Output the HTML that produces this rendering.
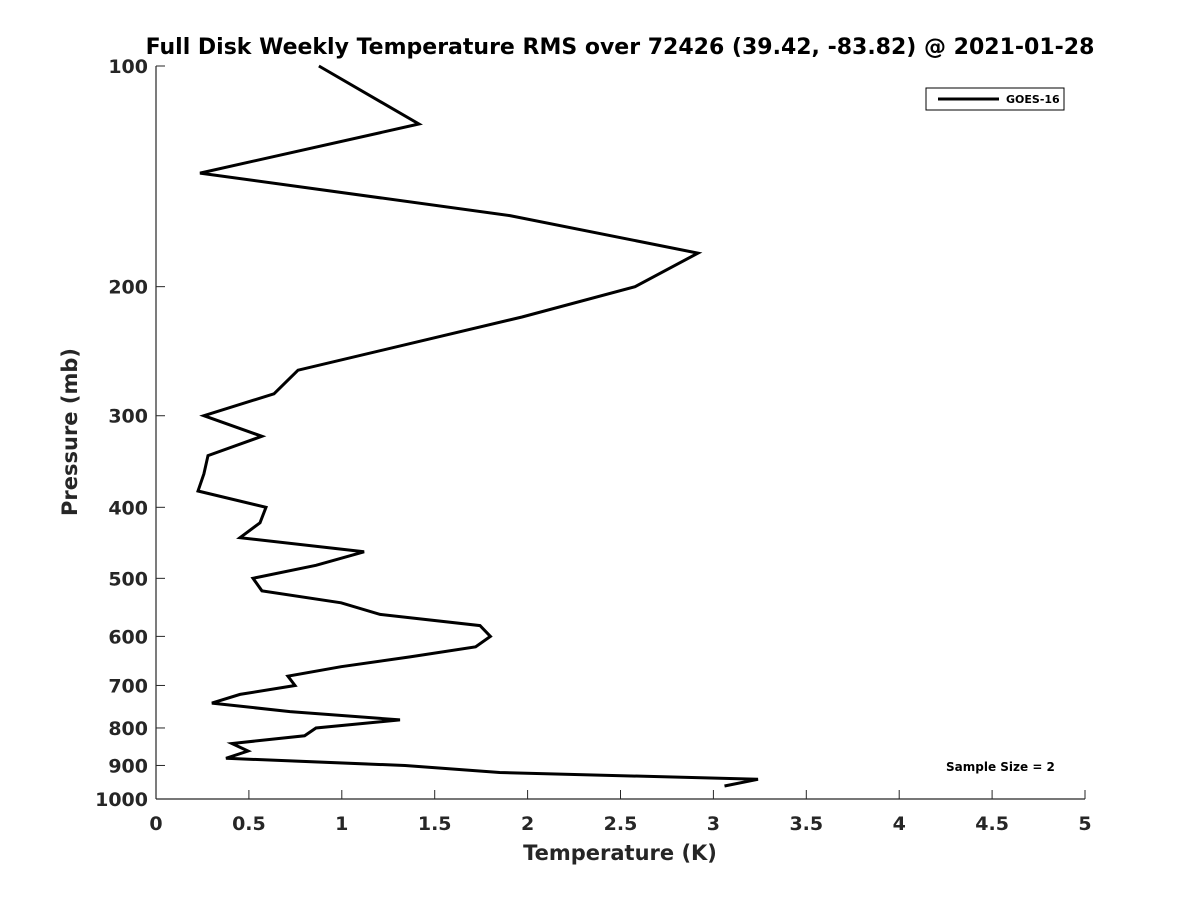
<!DOCTYPE html>
<html><head><meta charset="utf-8"><style>
body{margin:0;background:#fff;}
text{font-family:"DejaVu Sans","Liberation Sans",sans-serif;font-weight:bold;fill:#262626;}
</style></head><body>
<svg id="chart" width="1200" height="900" xmlns="http://www.w3.org/2000/svg">
<rect width="1200" height="900" fill="#fff"/>
<text x="620" y="54" text-anchor="middle" font-size="22" style="fill:#000">Full Disk Weekly Temperature RMS over 72426 (39.42, -83.82) @ 2021-01-28</text>
<g id="axes"></g>
<polyline id="series" fill="none" stroke="#000" stroke-width="3" stroke-linejoin="miter"/>
<g>
<rect x="926" y="88" width="138" height="22" fill="#fff" stroke="#000" stroke-width="1"/>
<line x1="938" y1="99" x2="999" y2="99" stroke="#000" stroke-width="3"/>
<text x="1006" y="103" font-size="11" style="fill:#000">GOES-16</text>
</g>
<text x="946" y="771" font-size="12" style="fill:#000">Sample Size = 2</text>
<text x="620" y="860" text-anchor="middle" font-size="21">Temperature (K)</text>
<text transform="translate(77,432) rotate(-90)" text-anchor="middle" font-size="21">Pressure (mb)</text>
</svg>
<script>
const temps=[0.877,1.415,0.237,1.905,2.917,2.578,1.97,0.764,0.635,0.258,0.57,0.28,0.258,0.226,0.592,0.56,0.452,1.12,0.861,0.522,0.57,0.996,1.206,1.744,1.8,1.72,1.367,0.996,0.71,0.748,0.452,0.301,0.721,1.313,0.861,0.8,0.409,0.495,0.377,1.34,1.85,3.24,3.06];
const pressures=[100,120,140,160,180,200,220,260,280,300,320,340,360,380,400,420,440,460,480,500,520,540,560,580,600,620,640,660,680,700,720,740,760,780,800,820,840,860,880,900,920,940,960];
const xTicks=[0,0.5,1,1.5,2,2.5,3,3.5,4,4.5,5];
const xTickLabels=["0","0.5","1","1.5","2","2.5","3","3.5","4","4.5","5"];
const yTicks=[100,200,300,400,500,600,700,800,900,1000];
const X0=156,X1=1085,Y0=66,Y1=799;
function xs(v){return X0+(v-0)/(5-0)*(X1-X0);}
function ys(p){return Y0+(Math.log10(p)-2)/(3-2)*(Y1-Y0);}
const NS="http://www.w3.org/2000/svg";
const ax=document.getElementById('axes');
function mk(t,a,p){const e=document.createElementNS(NS,t);for(const k in a)e.setAttribute(k,a[k]);(p||ax).appendChild(e);return e;}
const xl=mk('line',{x1:X0,y1:Y1,x2:X1,y2:Y1,stroke:'#262626','stroke-width':1.2});


const yl=mk('line',{x1:X0,y1:Y0,x2:X0,y2:Y1,stroke:'#262626','stroke-width':1.2});


xTicks.forEach((v,i)=>{
  mk('line',{x1:xs(v),y1:Y1,x2:xs(v),y2:Y1-9,stroke:'#262626','stroke-width':1});
  const t=mk('text',{x:xs(v),y:Y1+31,'text-anchor':'middle','font-size':19});
  t.textContent=xTickLabels[i];
  
  
});
yTicks.forEach(p=>{
  mk('line',{x1:X0,y1:ys(p),x2:X0+9,y2:ys(p),stroke:'#262626','stroke-width':1});
  const t=mk('text',{x:X0-8,y:ys(p)+7,'text-anchor':'end','font-size':19});
  t.textContent=String(p);
  
  
});
document.getElementById('series').setAttribute('points',temps.map((t,i)=>xs(t).toFixed(1)+','+ys(pressures[i]).toFixed(1)).join(' '));
</script>
</body></html>
